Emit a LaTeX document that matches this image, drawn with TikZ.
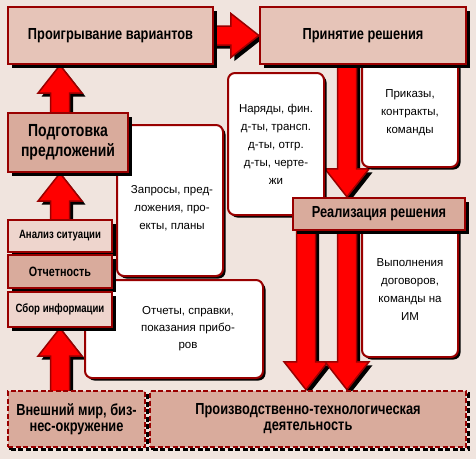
\documentclass[tikz,border=0pt]{standalone}
\usepackage{fontspec}
\setmainfont{Liberation Sans}
\newfontfamily\headfont{Liberation Sans}[FakeStretch=0.8]
\usetikzlibrary{positioning, calc, shadows}

\definecolor{bgpink}{RGB}{240,228,222}
\definecolor{dkred}{RGB}{153,0,0}
\definecolor{pinkA}{RGB}{230,196,184}
\definecolor{pinkB}{RGB}{217,171,156}
\definecolor{pinkC}{RGB}{238,213,205}

\pgfdeclarelayer{back}
\pgfdeclarelayer{mid}
\pgfsetlayers{back,mid,main}

% outline of a block arrow from #1 to the tip #2
\newcommand{\arrowpath}[2]{($(#1)!9.5pt!90:(#2)$) -- ($(ab)!9.5pt!90:(#2)$)
  -- ($(ab)!22pt!90:(#2)$) -- (#2) -- ($(ab)!22pt!-90:(#2)$)
  -- ($(ab)!9.5pt!-90:(#2)$) -- ($(#1)!9.5pt!-90:(#2)$) -- cycle}
\newcommand{\bigarrow}[2]{%
  \coordinate (ab) at ($(#2)!28pt!(#1)$);
  \fill[black, transform canvas={xshift=3.5pt, yshift=-3.5pt}] \arrowpath{#1}{#2};
  \draw[arr] \arrowpath{#1}{#2};
}

\begin{document}
\begin{tikzpicture}[x=1pt, y=-1pt,
    every node/.style={align=center, inner sep=0pt},
    lbl/.style={font=\headfont\bfseries\fontsize{16}{19}\selectfont},
    box/.style={lbl, draw=dkred, line width=2.2pt, fill=pinkA,
                drop shadow={shadow xshift=3.5pt, shadow yshift=-3.5pt, fill=black, opacity=1}},
    dbox/.style={lbl, draw=dkred, line width=2.5pt, dash pattern=on 5pt off 2.5pt, fill=pinkB,
                 preaction={draw=black, line width=2.5pt, dash pattern=on 5pt off 2.5pt,
                            transform canvas={xshift=2.5pt, yshift=-2.5pt}}},
    note/.style={draw=dkred, line width=2pt, fill=white, rounded corners=7pt,
                 font=\fontsize{11.5}{18}\selectfont,
                 drop shadow={shadow xshift=2.5pt, shadow yshift=-2.5pt, fill=black, opacity=1}},
    arr/.style={fill=red, draw=dkred, line width=1.5pt, line join=miter}
]
\begin{pgfonlayer}{back}
\fill[bgpink] (0,0) rectangle (476,459);
\end{pgfonlayer}
\useasboundingbox (0,0) rectangle (476,459);

% callouts
\node[note, minimum width=106pt, minimum height=151pt,
      label={[font=\fontsize{11.5}{18}\selectfont, yshift=-8pt, xshift=2pt]center:Запросы, пред-\\ложения, про-\\екты, планы}]
      (nreq) at (170,200.5) {};
\node[note, minimum width=96pt, minimum height=142pt] (nord) at (276,144)
      {Наряды, фин.\\д-ты, трансп.\\д-ты, отгр.\\д-ты, черте-\\жи};
\node[note, minimum width=96pt, minimum height=108pt] (ncmd) at (410,113)
      {Приказы,\\контракты,\\команды};
\node[note, minimum width=96pt, minimum height=135pt] (nexe) at (410,289.5)
      {Выполнения\\договоров,\\команды на\\ИМ};
\node[note, minimum width=178pt, minimum height=98pt,
      label={[font=\fontsize{11.5}{17}\selectfont, xshift=14pt]center:Отчеты, справки,\\показания прибо-\\ров}]
      (nrep) at (174,329) {};

% boxes
\node[box, minimum width=205pt, minimum height=57pt] (play) at (110.5,35.5) {Проигрывание вариантов};
\node[box, minimum width=206pt, minimum height=57pt] (decide) at (363,35.5) {Принятие решения};
\node[box, fill=pinkB, minimum width=120pt, minimum height=59pt,
      font=\headfont\bfseries\fontsize{17.5}{19.5}\selectfont] (prep) at (68,142.5) {Подготовка\\предложений};
\node[box, fill=pinkC, minimum width=104pt, minimum height=32pt,
      font=\headfont\bfseries\fontsize{12}{13}\selectfont] (anal) at (60,236) {Анализ ситуации};
\node[box, fill=pinkB, minimum width=104pt, minimum height=33pt,
      font=\headfont\bfseries\fontsize{13.5}{14}\selectfont] (rpt) at (60,271.5) {Отчетность};
\node[box, fill=pinkC, minimum width=104pt, minimum height=35pt,
      font=\headfont\bfseries\fontsize{12}{13}\selectfont] (coll) at (60,309.5) {Сбор информации};
\node[box, fill=pinkB, minimum width=172pt, minimum height=32pt] (impl) at (379,214) {Реализация решения};
\node[dbox, minimum width=137pt, minimum height=56pt, font=\headfont\bfseries\fontsize{16}{16}\selectfont]
      (world) at (76.5,419) {Внешний мир, биз-\\нес-окружение};
\node[dbox, minimum width=316pt, minimum height=56pt, font=\headfont\bfseries\fontsize{16}{16}\selectfont]
      (prod) at (308,419) {Производственно-технологическая\\деятельность};

% arrow axes
\coordinate (ax1) at (60,0);
\coordinate (ax2) at (306,0);
\coordinate (ax3) at (347,0);

% block arrows, behind the boxes
\begin{pgfonlayer}{mid}
\bigarrow{prep.center -| ax1}{play.south -| ax1}
\bigarrow{anal.center}{prep.south -| ax1}
\bigarrow{world.center -| ax1}{coll.south}
\bigarrow{play.center}{decide.west}
\bigarrow{decide.center -| ax3}{impl.north -| ax3}
\bigarrow{impl.center -| ax2}{prod.north -| ax2}
\bigarrow{impl.center -| ax3}{prod.north -| ax3}
\end{pgfonlayer}
\end{tikzpicture}
\end{document}
